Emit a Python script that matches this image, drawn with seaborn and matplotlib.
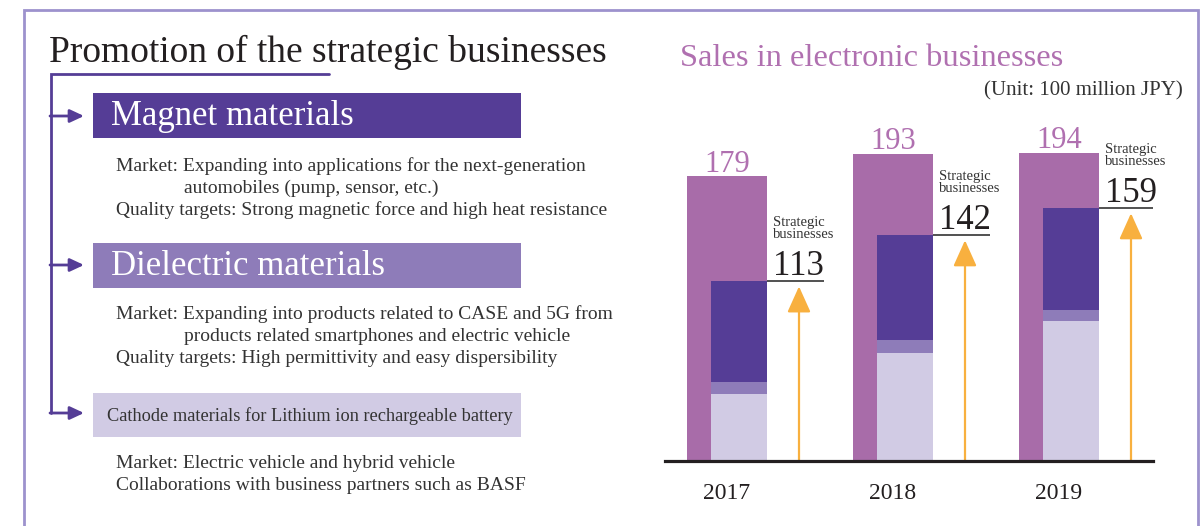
import numpy as np
import pandas as pd
import matplotlib
matplotlib.use("Agg")
import matplotlib.pyplot as plt
from matplotlib.patches import Rectangle
import seaborn as sns

# ---------------- data ----------------
years = ["2017", "2018", "2019"]
total_sales = [179, 193, 194]          # sales in electronic businesses
strategic_total = [113, 142, 159]      # strategic businesses
cathode = [42, 68, 88]                 # light segment (bottom)
dielectric = [8, 8, 7]                 # mid segment
magnet = [63, 66, 64]                  # dark segment (top)

title_left = "Promotion of the strategic businesses"
box_titles = ["Magnet materials", "Dielectric materials",
              "Cathode materials for Lithium ion rechargeable battery"]
box_bodies = [
    ["Market: Expanding into applications for the next-generation",
     "automobiles (pump, sensor, etc.)",
     "Quality targets: Strong magnetic force and high heat resistance"],
    ["Market: Expanding into products related to CASE and 5G from",
     "products related smartphones and electric vehicle",
     "Quality targets: High permittivity and easy dispersibility"],
    ["Market: Electric vehicle and hybrid vehicle",
     "Collaborations with business partners such as BASF"],
]
body_indent = [[116, 184, 116], [116, 184, 116], [116, 116]]
chart_title = "Sales in electronic businesses"
unit_label = "(Unit: 100 million JPY)"
strategic_label = "Strategic\nbusinesses"

# ---------------- style ----------------
sns.set_theme(style="white")
plt.rcParams["font.family"] = ["Liberation Serif", "DejaVu Serif"]

C_OUTER = "#a86ca9"
C_DARK = "#553d96"
C_MID = "#8e7cb9"
C_LIGHT = "#d1cbe4"
C_ORANGE = "#f8b03f"
C_BORDER = "#9d92cd"
C_TEXT = "#333333"
C_BLACK = "#231f20"

W, H = 1204, 526
fig = plt.figure(figsize=(W / 100, H / 100), dpi=100)
fig.patch.set_facecolor("white")

# background / left panel axes in pixel coordinates
bg = fig.add_axes([0, 0, 1, 1], zorder=0)
bg.set_xlim(0, W)
bg.set_ylim(H, 0)
bg.axis("off")

# outer border (top, left, right)
bg.plot([24, 24, 1198, 1198], [H + 5, 10, 10, H + 5], color=C_BORDER, lw=2.0,
        solid_joinstyle="miter", clip_on=False)

bg.text(49, 62, title_left, fontsize=27, color=C_BLACK, ha="left", va="baseline")

# tree lines
bg.plot([329, 51, 51], [74, 74, 413], color=C_DARK, lw=2.0, solid_joinstyle="miter")
for yy in [116, 265, 413]:
    bg.annotate("", xy=(84, yy), xytext=(50, yy),
                arrowprops=dict(arrowstyle="-|>,head_width=0.28,head_length=0.6",
                                color=C_DARK, lw=2.0, mutation_scale=14,
                                shrinkA=0, shrinkB=0))

box_y = [(93, 138), (243, 288), (393, 437)]
box_col = [C_DARK, C_MID, C_LIGHT]
box_txtcol = ["white", "white", C_TEXT]
box_fs = [25, 25, 13.2]
box_tx = [111, 111, 107]
body_base = [[171, 193, 215], [319, 341, 363], [468, 490]]
for i in range(3):
    y0, y1 = box_y[i]
    bg.add_patch(Rectangle((93, y0), 521 - 93, y1 - y0, color=box_col[i], lw=0))
    bg.text(box_tx[i], (y0 + y1) / 2 + 1, box_titles[i], fontsize=box_fs[i],
            color=box_txtcol[i], ha="left", va="center")
    for line, xb, yb in zip(box_bodies[i], body_indent[i], body_base[i]):
        bg.text(xb, yb, line, fontsize=14.0, color=C_TEXT, ha="left", va="baseline")

# chart titles
bg.text(680, 66, chart_title, fontsize=23.4, color="#b070b0", ha="left", va="baseline")
bg.text(1183, 95, unit_label, fontsize=15, color=C_TEXT, ha="right", va="baseline")

# ---------------- bar chart ----------------
ax_l, ax_r, ax_t, ax_b = 665, 1153, 120, 461
ax = fig.add_axes([ax_l / W, 1 - ax_b / H, (ax_r - ax_l) / W, (ax_b - ax_t) / H], zorder=1)
ax.set_facecolor("none")

pos = np.arange(len(years))
px_per_unit = 166.0
outer_w = 80 / px_per_unit
inner_w = 56 / px_per_unit
inner_off = 12 / px_per_unit

cum_mid = np.array(cathode) + np.array(dielectric)
cum_top = cum_mid + np.array(magnet)

df = pd.DataFrame({"pos": pos, "total": total_sales, "inner_pos": pos + inner_off,
                   "cum_top": cum_top, "cum_mid": cum_mid, "cathode": cathode})

sns.barplot(data=df, x="pos", y="total", native_scale=True, width=outer_w,
            color=C_OUTER, saturation=1, linewidth=0, errorbar=None, ax=ax)
for col, c in [("cum_top", C_DARK), ("cum_mid", C_MID), ("cathode", C_LIGHT)]:
    sns.barplot(data=df, x="inner_pos", y=col, native_scale=True, width=inner_w,
                color=c, saturation=1, linewidth=0, errorbar=None, ax=ax)

ax.set_xlim((ax_l - 727) / px_per_unit, (ax_r - 727) / px_per_unit)
ypx = 1.59
ax.set_ylim(0, (ax_b - ax_t) / ypx)

for s in ["top", "left", "right"]:
    ax.spines[s].set_visible(False)
ax.spines["bottom"].set_linewidth(2.3)
ax.spines["bottom"].set_color(C_BLACK)
ax.spines["bottom"].set_zorder(5)
ax.set_yticks([])
ax.set_xticks(pos, years)
ax.tick_params(axis="x", length=0, pad=16, labelsize=17, labelcolor=C_BLACK)
ax.set_xlabel("")
ax.set_ylabel("")

right_off = outer_w / 2
arrow_off = 72 / px_per_unit
line_end = 97 / px_per_unit
for i in range(len(years)):
    x = pos[i]
    # total label
    ax.annotate(str(total_sales[i]), xy=(x, total_sales[i]), xytext=(0, 3.5),
                textcoords="offset points", ha="center", va="baseline",
                fontsize=22, color="#b070b0")
    st = strategic_total[i]
    # leader line
    ax.plot([x + right_off, x + line_end], [st, st], color=C_TEXT, lw=1.2,
            solid_capstyle="butt")
    ax.annotate(str(st), xy=(x + right_off, st), xytext=(4.5, 4.5),
                textcoords="offset points", ha="left", va="baseline",
                fontsize=25, color=C_BLACK)
    ax.annotate(strategic_label, xy=(x + right_off, st), xytext=(4.5, 31),
                textcoords="offset points", ha="left", va="baseline",
                fontsize=10.5, color=C_TEXT, linespacing=0.95)
    # orange arrow
    ax.annotate("", xy=(x + arrow_off, st - 3.2), xytext=(x + arrow_off, 0),
                arrowprops=dict(arrowstyle="-|>,head_width=0.36,head_length=0.8",
                                color=C_ORANGE, lw=1.6, mutation_scale=20,
                                shrinkA=0, shrinkB=0))

fig.savefig("out.png", dpi=100, facecolor="white")
